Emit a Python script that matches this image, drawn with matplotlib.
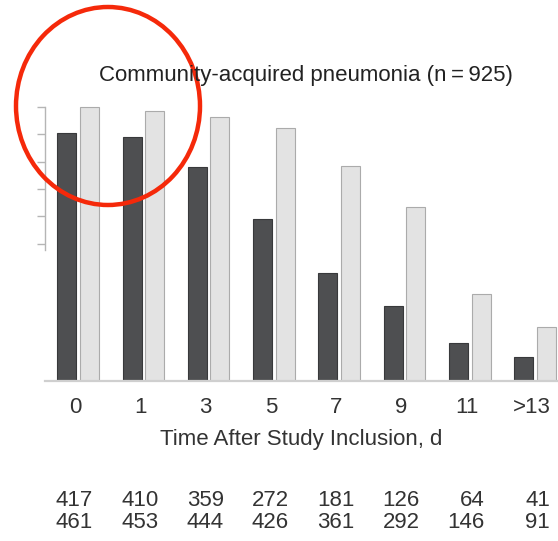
import matplotlib.pyplot as plt
import matplotlib.transforms as mtransforms
from matplotlib.patches import Ellipse
import numpy as np

# days after inclusion and patient counts per group
days = ['0', '1', '3', '5', '7', '9', '11', '>13']
dark_counts = [417, 410, 359, 272, 181, 126, 64, 41]
light_counts = [461, 453, 444, 426, 361, 292, 146, 91]
tick_pct = [50, 60, 70, 80, 90, 100]

plt.rcParams['font.family'] = ['Liberation Sans', 'DejaVu Sans']
FS = 16

W, H = 558, 541
fig = plt.figure(figsize=(W / 100, H / 100), dpi=100)

# axes box in pixels: left spine at x=45, baseline at y=381
ax_left, ax_right, ax_bottom, ax_top = 45, 558, 381, 95
ax = fig.add_axes([ax_left / W, 1 - ax_bottom / H,
                   (ax_right - ax_left) / W, (ax_bottom - ax_top) / H])

px_per_unit = 0.595
ax.set_ylim(0, (ax_bottom - ax_top) / px_per_unit)
ax.set_xlim((ax_left - 78) / 65.3, (ax_right - 78) / 65.3)

x = np.arange(len(days))
w = 0.29
ax.bar(x - 0.172, dark_counts, w, color='#4e4f51', edgecolor='#38393b', linewidth=0.8)
ax.bar(x + 0.172, light_counts, w, color='#e3e3e3', edgecolor='#ababab', linewidth=0.8)

for s in ['top', 'right']:
    ax.spines[s].set_visible(False)
ax.spines['bottom'].set_color('#cfcfcf')
ax.spines['bottom'].set_linewidth(1.6)
ax.spines['left'].set_color('#b5b5b5')
ax.spines['left'].set_linewidth(1.0)

yticks = [light_counts[0] * p / 100 for p in tick_pct]
ax.set_yticks(yticks)
ax.set_yticklabels([])
ax.spines['left'].set_bounds(yticks[0] - 10, yticks[-1])
ax.tick_params(axis='y', length=6, width=1.0, color='#b5b5b5')

ax.set_xticks(x - 0.045)
ax.set_xticklabels(days, fontsize=FS, color='#333333')
ax.tick_params(axis='x', length=0, pad=11.5)
ax.set_xlabel('Time After Study Inclusion, d', fontsize=FS, color='#333333', labelpad=8)

fig.text(306 / W, 1 - 75 / H, 'Community-acquired pneumonia (n\u2009=\u2009925)',
         ha='center', va='center', fontsize=FS, color='#222222')

# count rows beneath the chart
trans = mtransforms.blended_transform_factory(ax.transData, fig.transFigure)
for i in range(len(days)):
    ax.text(x[i] + 0.23, 1 - 500 / H, str(dark_counts[i]), transform=trans,
            ha='right', va='center', fontsize=FS, color='#333333', clip_on=False)
    ax.text(x[i] + 0.23, 1 - 523 / H, str(light_counts[i]), transform=trans,
            ha='right', va='center', fontsize=FS, color='#333333', clip_on=False)

# red highlight ring
ring = Ellipse((108 / W, 1 - 106 / H), 184 / W, 198 / H, transform=fig.transFigure,
               fill=False, edgecolor='#f5290a', linewidth=3.2)
fig.patches.append(ring)

fig.savefig('out.png', dpi=100)
